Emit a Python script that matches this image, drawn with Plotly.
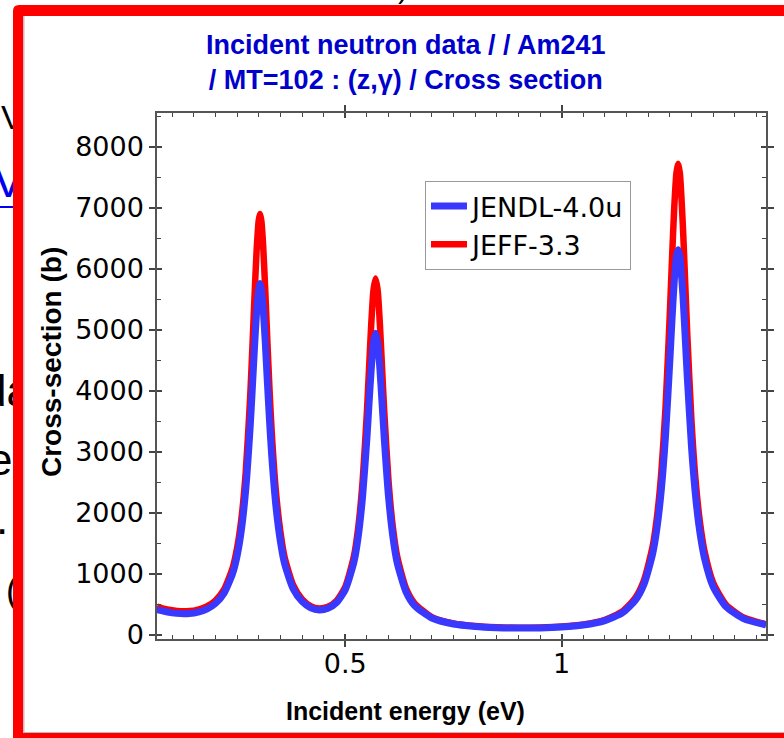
import plotly.graph_objects as go

W, H = 784, 738

energy = [0.065, 0.08, 0.10, 0.12, 0.14, 0.16, 0.18, 0.20, 0.22, 0.24, 0.25, 0.26, 0.27, 0.28, 0.285,
          0.29, 0.295, 0.30, 0.303, 0.306, 0.31, 0.315, 0.32, 0.325, 0.33, 0.34, 0.35, 0.36, 0.38, 0.40,
          0.42, 0.44, 0.46, 0.48, 0.50, 0.52, 0.53, 0.54, 0.55, 0.555, 0.56, 0.565, 0.57, 0.575, 0.58,
          0.585, 0.59, 0.60, 0.61, 0.62, 0.64, 0.66, 0.70, 0.75, 0.80, 0.85, 0.90, 0.95, 1.00, 1.05,
          1.10, 1.14, 1.17, 1.19, 1.21, 1.22, 1.23, 1.24, 1.25, 1.255, 1.26, 1.265, 1.269, 1.273, 1.28,
          1.285, 1.29, 1.30, 1.31, 1.32, 1.33, 1.35, 1.38, 1.42, 1.472]

xs_jendl = [415, 390, 362, 350, 353, 376, 424, 516, 685, 1012, 1293, 1723, 2384, 3383, 4015,
            4684, 5286, 5670, 5760, 5671, 5387, 4817, 4152, 3509, 2944, 2094, 1539, 1161, 751, 550,
            445, 411, 438, 532, 742, 1196, 1620, 2273, 3230, 3810, 4364, 4786, 4945, 4784, 4360,
            3803, 3230, 2260, 1607, 1182, 713, 482, 278, 180, 140, 120, 113, 116, 131, 164,
            236, 362, 567, 829, 1327, 1749, 2370, 3282, 4518, 5193, 5796, 6205, 6315, 6205, 5571,
            4924, 4250, 3072, 2224, 1648, 1257, 791, 460, 269, 164]

xs_jeff = [465, 432, 406, 390, 392, 417, 467, 565, 748, 1109, 1423, 1907, 2672, 3866, 4647,
           5497, 6282, 6794, 6900, 6795, 6417, 5668, 4819, 4019, 3334, 2333, 1698, 1271, 812, 586,
           472, 435, 463, 562, 789, 1295, 1769, 2519, 3666, 4387, 5095, 5645, 5845, 5641, 5089,
           4379, 3669, 2513, 1762, 1286, 770, 520, 294, 190, 146, 126, 119, 123, 138, 173,
           250, 387, 610, 897, 1451, 1931, 2652, 3747, 5302, 6188, 7006, 7572, 7726, 7572, 6698,
           5833, 4958, 3490, 2481, 1816, 1373, 855, 493, 288, 175]

series_names = ["JENDL-4.0u", "JEFF-3.3"]
title_lines = ["Incident neutron data / / Am241", "/ MT=102 : (z,γ) / Cross section"]
x_title = "Incident energy (eV)"
y_title = "Cross-section (b)"

# background page fragments visible left of / above the popup frame
frag_text = ["V", "V", "da", "e", ".", "("]
frag_x = [1, -7, -18, -12, -4, 6]
frag_y = [120, 185, 395, 464, 523, 594]
frag_color = ["black", "#0000ee", "black", "black", "black", "black"]
frag_size = [34, 46, 44, 44, 44, 36]

top_frag_text = [")"]
top_frag_x = [398]
top_frag_y = [-10]

# pixel layout helpers
PL, PR, PT, PB = 157, 766, 113, 639
px = lambda v: v / W
py = lambda v: 1 - v / H

fig = go.Figure()

fig.add_trace(go.Scatter(x=energy, y=xs_jeff, mode="lines", name=series_names[1],
                         line=dict(color="#ff0000", width=6.5, shape="spline", smoothing=0.6),
                         legendrank=2))
fig.add_trace(go.Scatter(x=energy, y=xs_jendl, mode="lines", name=series_names[0],
                         line=dict(color="#3838ff", width=7, shape="spline", smoothing=0.6),
                         legendrank=1))

# overlay axes for inner half of the major ticks
fig.add_trace(go.Scatter(x=[None], y=[None], xaxis="x3", yaxis="y3", showlegend=False,
                         hoverinfo="skip"))

# clipped fragments of background page (left strip)
for t, fx, fy, fc, fs in zip(frag_text, frag_x, frag_y, frag_color, frag_size):
    fig.add_trace(go.Scatter(x=[fx], y=[fy], mode="text", text=[t], textposition="middle right",
                             textfont=dict(family="Liberation Sans, Arial", size=fs, color=fc),
                             xaxis="x2", yaxis="y2", showlegend=False, cliponaxis=True,
                             hoverinfo="skip"))
# clipped fragment (top strip)
fig.add_trace(go.Scatter(x=top_frag_x, y=top_frag_y, mode="text", text=top_frag_text,
                         textposition="middle right",
                         textfont=dict(family="Liberation Sans, Arial", size=30, color="black"),
                         xaxis="x4", yaxis="y4", showlegend=False, cliponaxis=True,
                         hoverinfo="skip"))

xr = [0.065, 1.472]
yr = [-66, 8557]
tickfont = dict(family="DejaVu Sans", size=27, color="black")

fig.update_layout(
    width=W, height=H, autosize=False,
    margin=dict(l=0, r=0, t=0, b=0),
    paper_bgcolor="white", plot_bgcolor="white",
    xaxis=dict(domain=[px(PL), px(PR)], range=xr, tick0=0, dtick=0.5, ticks="outside", ticklen=6,
               tickwidth=1.5, tickcolor="#444", showline=True, linecolor="#555", linewidth=1.5,
               mirror="ticks", showgrid=False, zeroline=False, tickfont=tickfont,
               ticklabelstandoff=-6, automargin=False,
               minor=dict(tick0=0, dtick=0.05, ticks="inside", ticklen=4, tickwidth=1.2,
                          tickcolor="#444", showgrid=False)),
    yaxis=dict(domain=[py(PB), py(PT)], range=yr, tick0=0, dtick=1000, ticks="outside", ticklen=6,
               tickwidth=1.5, tickcolor="#444", showline=True, linecolor="#555", linewidth=1.5,
               mirror="ticks", showgrid=False, zeroline=False, tickfont=tickfont, automargin=False,
               minor=dict(tick0=0, dtick=500, ticks="inside", ticklen=4, tickwidth=1.2,
                          tickcolor="#444", showgrid=False)),
    xaxis3=dict(overlaying="x", anchor="y3", range=xr, tick0=0, dtick=0.5, ticks="inside",
                ticklen=5, tickwidth=1.5, tickcolor="#444", mirror="ticks", showline=False,
                showticklabels=False, showgrid=False, zeroline=False, automargin=False),
    yaxis3=dict(overlaying="y", anchor="x3", range=yr, tick0=0, dtick=1000, ticks="inside",
                ticklen=5, tickwidth=1.5, tickcolor="#444", mirror="ticks", showline=False,
                showticklabels=False, showgrid=False, zeroline=False, automargin=False),
    xaxis2=dict(domain=[0, px(13)], range=[0, 13], visible=False, anchor="y2"),
    yaxis2=dict(domain=[0, 1], range=[H, 0], visible=False, anchor="x2"),
    xaxis4=dict(domain=[0, 1], range=[0, W], visible=False, anchor="y4"),
    yaxis4=dict(domain=[py(5), 1], range=[5, 0], visible=False, anchor="x4"),
    legend=dict(x=px(425), y=py(181), xanchor="left", yanchor="top",
                bgcolor="white", bordercolor="#999", borderwidth=1,
                font=dict(family="DejaVu Sans", size=27, color="black"),
                itemwidth=36, tracegroupgap=0),
    showlegend=True,
)

fig.add_annotation(text=title_lines[0] + "<br>" + title_lines[1], xref="paper", yref="paper",
                   x=px(406), y=py(63), xanchor="center", yanchor="middle", showarrow=False,
                   font=dict(family="Liberation Sans, Arial", size=27, color="#0000cc", weight="bold"))
fig.add_annotation(text=x_title, xref="paper", yref="paper", x=px(405), y=py(711),
                   xanchor="center", yanchor="middle", showarrow=False,
                   font=dict(family="Liberation Sans, Arial", size=25, color="black", weight="bold"))
fig.add_annotation(text=y_title, xref="paper", yref="paper", x=px(51), y=py(362),
                   xanchor="center", yanchor="middle", showarrow=False, textangle=-90,
                   font=dict(family="Liberation Sans, Arial", size=28, color="black", weight="bold"))

# popup window red frame (left, top, bottom bands with rounded corner)
def pp(x, y):
    return f"{px(x):.5f},{py(y):.5f}"

frame_path = ("M " + pp(13, 738) + " L " + pp(13, 11) + " Q " + pp(13, 5) + " " + pp(19, 5) +
              " L " + pp(784, 5) + " L " + pp(784, 16) + " L " + pp(23.3, 16) +
              " L " + pp(23.3, 733) + " L " + pp(784, 733) + " L " + pp(784, 738) + " Z")
fig.add_shape(type="path", path=frame_path, xref="paper", yref="paper",
              fillcolor="#ff0000", line=dict(width=0), layer="above")
fig.add_shape(type="line", xref="paper", yref="paper", x0=px(24), x1=px(24), y0=py(16), y1=py(733),
              line=dict(color="#bbbbbb", width=1))
fig.add_shape(type="line", xref="paper", yref="paper", x0=px(24), x1=px(784), y0=py(732.5),
              y1=py(732.5), line=dict(color="#bbbbbb", width=1))
fig.add_shape(type="line", xref="paper", yref="paper", x0=px(0), x1=px(13), y0=py(207),
              y1=py(207), line=dict(color="#0000ee", width=2))

fig.write_html("out.html")
